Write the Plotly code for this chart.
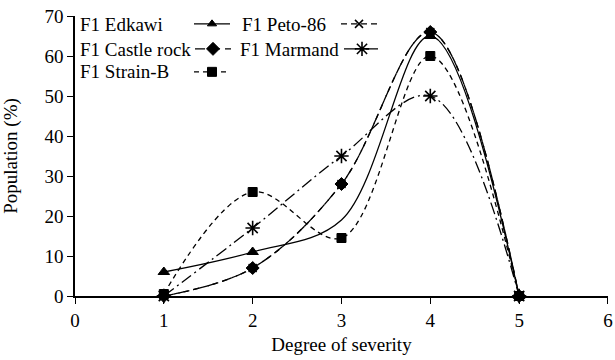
import plotly.graph_objects as go

severity = [1, 2, 3, 4, 5]
edkawi = [6, 11, 19, 65, 0]
peto86 = [0, 7, 28, 66, 0]
castle_rock = [0, 7, 28, 66, 0]
marmand = [0, 17, 35, 50, 0]
strain_b = [0.5, 26, 14.5, 60, 0]

series_names = ["F1 Edkawi", "F1 Peto-86", "F1 Castle rock", "F1 Marmand", "F1 Strain-B"]

x_ticks = [0, 1, 2, 3, 4, 5, 6]
y_ticks = [0, 10, 20, 30, 40, 50, 60, 70]

FONT = "Liberation Serif, Times New Roman, serif"
FS = 19

# plot area geometry (px)
W, H = 615, 360
ML, MR, MT, MB = 75, 7, 16, 64
PW, PH = W - ML - MR, H - MT - MB

def px_x(p):
    return (p - ML) / PW

def px_y(p):
    return (H - MB - p) / PH

fig = go.Figure()

# legend slots: (text left px, symbol start px, row centre px)
slots = {
    "F1 Edkawi": (78, 189, 24),
    "F1 Castle rock": (78, 190, 49),
    "F1 Strain-B": (78, 189, 72),
    "F1 Peto-86": (240, 336, 24),
    "F1 Marmand": (238, 339, 49),
}

legend_ids = {}
for i, nm in enumerate(["F1 Edkawi", "F1 Castle rock", "F1 Strain-B", "F1 Peto-86", "F1 Marmand"]):
    legend_ids[nm] = "legend" if i == 0 else f"legend{i+1}"

def add(name, y, symbol, dash, size, width=1.3, mlw=1):
    fig.add_trace(go.Scatter(
        x=severity, y=y, name="", mode="lines+markers",
        legend=legend_ids[name], hovertext=name,
        line=dict(color="black", width=width, dash=dash, shape="spline", smoothing=1.0),
        marker=dict(symbol=symbol, size=size, color="black",
                    opacity=1, line=dict(color="black", width=mlw)),
        cliponaxis=False,
    ))

add("F1 Peto-86", peto86, "x-thin-open", "6px,4px", 8, mlw=1.5)
add("F1 Edkawi", edkawi, "triangle-up", "solid", [10, 10, 0, 10, 10])
add("F1 Castle rock", castle_rock, "diamond", "10px,5px", 10)
add("F1 Marmand", marmand, "asterisk-open", "12px,4px,2px,4px", 12, mlw=1.6)
add("F1 Strain-B", strain_b, "square", "5px,4px", 9)

layout_legends = {}
annotations = []
for nm, (tx, sx, ry) in slots.items():
    layout_legends[legend_ids[nm]] = dict(
        x=px_x(sx), xanchor="left", y=px_y(ry), yanchor="middle",
        bgcolor="rgba(0,0,0,0)", borderwidth=0, itemwidth=36,
        font=dict(family=FONT, size=FS), itemclick=False, itemdoubleclick=False,
    )
    annotations.append(dict(
        text=nm, xref="paper", yref="paper", x=px_x(tx), y=px_y(ry),
        xanchor="left", yanchor="middle", showarrow=False,
        font=dict(family=FONT, size=FS, color="black"),
    ))

fig.update_layout(
    width=W, height=H,
    margin=dict(l=ML, r=MR, t=MT, b=MB, autoexpand=False),
    paper_bgcolor="white", plot_bgcolor="white",
    font=dict(family=FONT, size=FS, color="black"),
    showlegend=True,
    annotations=annotations,
    xaxis=dict(range=[0, 6.0005], tickvals=x_ticks, showgrid=False, zeroline=False,
               showline=True, linecolor="black", linewidth=1.5, automargin=False,
               ticks="outside", ticklen=6, tickcolor="black", tickwidth=1.2,
               title=dict(text="Degree of severity", font=dict(family=FONT, size=FS), standoff=8),
               tickfont=dict(family=FONT, size=FS)),
    yaxis=dict(range=[0, 70], tickvals=y_ticks, showgrid=False, zeroline=False,
               showline=True, linecolor="black", linewidth=1.5, automargin=False,
               ticks="outside", ticklen=6, tickcolor="black", tickwidth=1.2,
               title=dict(text="Population (%)", font=dict(family=FONT, size=FS), standoff=22),
               tickfont=dict(family=FONT, size=FS)),
    **layout_legends,
)

fig.write_html("out.html", config={"displayModeBar": False},
               post_script="document.body.style.margin='0';")
